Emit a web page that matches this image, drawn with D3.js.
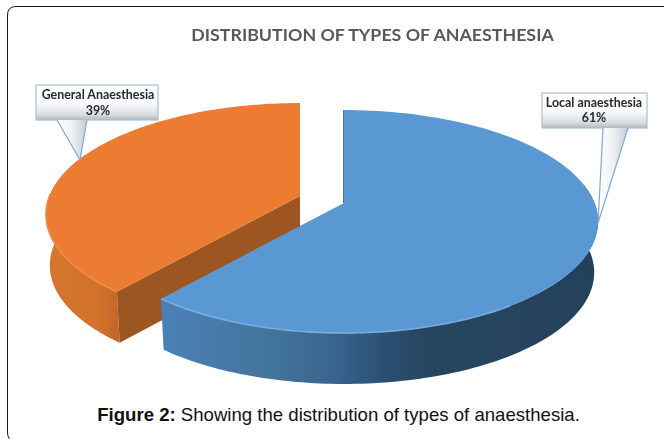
<!DOCTYPE html>
<html><head><meta charset="utf-8">
<script src="https://cdn.jsdelivr.net/npm/d3@7"></script>
<style>html,body{margin:0;padding:0;background:#fff}svg{display:block}</style>
</head><body><svg id="c" width="664" height="439"></svg>
<script>
const chartTitle = "DISTRIBUTION OF TYPES OF ANAESTHESIA";
const categories = ["Local anaesthesia", "General Anaesthesia"];
const shares = [61, 39];

const svg = d3.select("#c");
const defs = svg.append("defs");

function grad(id, stops, x2 = 1, y2 = 0, userSpace = null) {
  const g = defs.append("linearGradient").attr("id", id);
  if (userSpace) g.attr("gradientUnits", "userSpaceOnUse")
    .attr("x1", userSpace[0]).attr("x2", userSpace[1]).attr("y1", 0).attr("y2", 0);
  else g.attr("x1", 0).attr("y1", 0).attr("x2", x2).attr("y2", y2);
  stops.forEach(s => g.append("stop").attr("offset", s[0]).attr("stop-color", s[1]));
}
grad("blueWall", [[0, "#4a80b5"], [0.25, "#437399"], [0.38, "#3a6590"], [0.5, "#2c5072"], [0.62, "#26455f"], [1, "#24425c"]], 0, 0, [167, 598]);
grad("orangeWall", [[0, "#d6752e"], [0.7, "#d2722c"], [1, "#bd6628"]], 0, 0, [47, 122]);
grad("calloutFill", [[0, "#ffffff"], [0.55, "#f8f9fa"], [0.85, "#d9dcdf"], [1, "#b4b8bc"]], 0, 1);
grad("tailA", [[0, "#ffffff"], [0.5, "#eef1f4"], [1, "#c4ccd6"]], 1, 0);

defs.append("filter").attr("id", "soft").attr("x", "-5%").attr("y", "-5%").attr("width", "110%").attr("height", "110%")
  .append("feGaussianBlur").attr("stdDeviation", 0.6);
defs.append("filter").attr("id", "softer").attr("x", "-10%").attr("y", "-10%").attr("width", "120%").attr("height", "120%")
  .append("feGaussianBlur").attr("stdDeviation", 0.35);

/* Frame */
svg.append("path").attr("d", "M664,6.5H16Q7.5,6.5 7.5,15V433Q7.5,436 9.5,439")
  .attr("fill", "none").attr("stroke", "#1a1a1a").attr("stroke-width", 1);

/* Title */
svg.append("text").attr("x", 372.5).attr("y", 41).attr("text-anchor", "middle")
  .attr("font-family", "Lato").attr("font-weight", 700).attr("font-size", 17.8)
  .attr("fill", "#555a62").attr("filter", "url(#softer)").text(chartTitle);

/* Slices: perspective-projected disc */
const slices = d3.pie().sort(null).startAngle(0).endAngle(2 * Math.PI)(shares);
const persp = { rx: 250.5, ry: 108.4, k: 0.166, depth: 51, shrink: 0.985 };
const centres = [{ x: 344, y: 203 }, { x: 300, y: 196 }];

function rim(c, th, low) {
  const d = 1 + persp.k * Math.cos(th);
  const s = low ? persp.shrink : 1;
  return [c.x + s * persp.rx * Math.sin(th) / d,
          c.y + persp.ry * Math.cos(th) * -1 / d + (low ? persp.depth : 0)];
}
const sample = (a, b) => d3.range(0, 121).map(i => a + (b - a) * i / 120);
const line = d3.line();
const pie = svg.append("g").attr("filter", "url(#soft)");

function wall(c, a, b, fill) {
  const ths = sample(a, b);
  pie.append("path")
    .attr("d", line(ths.map(t => rim(c, t, false)).concat(ths.slice().reverse().map(t => rim(c, t, true)))) + "Z")
    .attr("fill", fill);
}
function topFace(c, a, b, fill, edge, ea, eb) {
  const pts = [[c.x, c.y]].concat(sample(a, b).map(t => rim(c, t, false)));
  pie.append("path").attr("d", line(pts) + "Z").attr("fill", fill);
  pie.append("path").attr("d", line(sample(ea, eb).map(t => rim(c, t, false))))
    .attr("fill", "none").attr("stroke", edge).attr("stroke-width", 1.6);
}

const blue = slices[0], orange = slices[1];
const oC = centres[1], bC = centres[0];

/* General Anaesthesia slice */
wall(oC, orange.startAngle, orange.startAngle + 1.3, "url(#orangeWall)");
const corner = rim(oC, orange.startAngle, false), cornerLow = rim(oC, orange.startAngle, true);
pie.append("path").attr("d", line([[oC.x, oC.y], corner, cornerLow, [oC.x, oC.y + persp.depth]]) + "Z").attr("fill", "#9d5623");
topFace(oC, orange.startAngle, orange.endAngle, "#ec7c30", "#f08a45", orange.startAngle, orange.startAngle + 0.9);

/* Local anaesthesia slice */
pie.append("path").attr("d", line([[bC.x, bC.y], [bC.x, bC.y - 93]])).attr("stroke", "#2f4f6e").attr("stroke-width", 1.6).attr("fill", "none");
wall(bC, 1.4, blue.endAngle, "url(#blueWall)");
topFace(bC, blue.startAngle, blue.endAngle, "#5a98d3", "#79ade0", blue.endAngle - 1.3, blue.endAngle);

/* Callouts */
const callouts = [
  { box: [36, 85, 122, 35], tail: [[57, 120], [80, 160], [87, 120]], tx: 98, ty: [99, 115] },
  { box: [542, 93, 105, 35], tail: [[603, 128], [598, 223], [628, 128]], tx: 594, ty: [107, 122] }
];
const labels = svg.append("g");
callouts.forEach((c, i) => {
  const g = labels.append("g").attr("filter", "url(#softer)");
  g.append("rect").attr("x", c.box[0]).attr("y", c.box[1]).attr("width", c.box[2]).attr("height", c.box[3])
    .attr("fill", "url(#calloutFill)").attr("stroke", "#a9c0d8").attr("stroke-width", 1.2);
  g.append("path").attr("d", line(c.tail) + "Z").attr("fill", "url(#tailA)").attr("stroke", "none");
  g.append("path").attr("d", line(c.tail)).attr("fill", "none").attr("stroke", "#86a8cb").attr("stroke-width", 1.2);
  const idx = i === 0 ? 1 : 0;
  g.append("text").attr("x", c.tx).attr("y", c.ty[0]).attr("text-anchor", "middle")
    .attr("font-family", "Lato").attr("font-weight", 700).attr("font-size", 12.4).attr("fill", "#262a30")
    .text(categories[idx]);
  g.append("text").attr("x", c.tx).attr("y", c.ty[1]).attr("text-anchor", "middle")
    .attr("font-family", "Lato").attr("font-weight", 700).attr("font-size", 12.4).attr("fill", "#262a30")
    .text(shares[idx] + "%");
});

/* Caption */
const cap = svg.append("text").attr("x", 338.5).attr("y", 421).attr("text-anchor", "middle")
  .attr("font-family", "Liberation Sans").attr("font-size", 18.6).attr("fill", "#111");
cap.append("tspan").attr("font-weight", 700).text("Figure 2:");
cap.append("tspan").text(" Showing the distribution of types of anaesthesia.");
</script></body></html>
